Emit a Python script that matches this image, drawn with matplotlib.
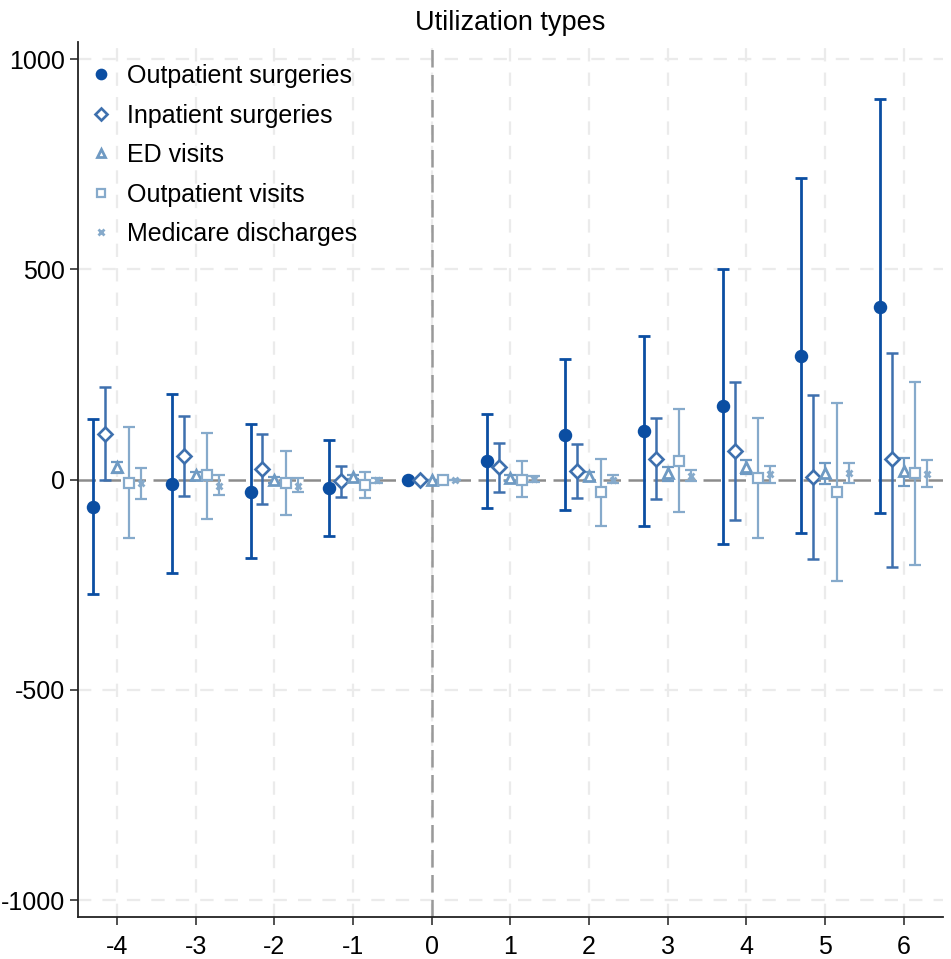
import numpy as np
import matplotlib
matplotlib.use("Agg")
import matplotlib.pyplot as plt

plt.rcParams['font.family'] = ['Liberation Sans', 'DejaVu Sans']

# Event time relative to treatment
periods = [-4, -3, -2, -1, 0, 1, 2, 3, 4, 5, 6]

# Point estimates and 95% confidence bounds by outcome
outpatient_surg = [-65, -10, -29, -20, 0, 44, 107, 116, 174, 294, 411]
outpatient_surg_lo = [-272, -221, -186, -134, 0, -68, -73, -110, -152, -128, -80]
outpatient_surg_hi = [144, 203, 132, 94, 0, 157, 287, 341, 500, 716, 904]

inpatient_surg = [109, 55, 26, -4, 0, 29, 20, 50, 68, 7, 48]
inpatient_surg_lo = [-1, -39, -57, -42, 0, -29, -43, -45, -96, -188, -207]
inpatient_surg_hi = [220, 151, 108, 33, 0, 86, 84, 146, 232, 201, 302]

ed_visits = [29, 11, -1, 7, 0, 4, 9, 15, 29, 16, 21]
ed_visits_lo = [16, -1, -8, 1, 0, -3, -1, -3, 13, -11, -15]
ed_visits_hi = [42, 19, 7, 11, 0, 11, 19, 30, 46, 40, 52]

outpatient_visits = [-7, 11, -9, -13, 0, 0, -30, 45, 3, -30, 15]
outpatient_visits_lo = [-138, -93, -84, -43, 0, -42, -111, -77, -140, -241, -203]
outpatient_visits_hi = [126, 111, 69, 19, 0, 44, 50, 167, 146, 182, 233]

medicare_dis = [-9, -15, -15, -1, 0, 2, 0, 8, 13, 16, 13]
medicare_dis_lo = [-46, -37, -30, -9, 0, -5, -8, -4, -8, -9, -17]
medicare_dis_hi = [27, 11, 3, 4, 0, 8, 10, 22, 33, 40, 46]

series = [
    ("Outpatient surgeries", outpatient_surg, outpatient_surg_lo, outpatient_surg_hi,
     dict(marker='o', color='#0B4EA2', ms=8.5, mfc='#0B4EA2', lw=2.0, mew=1.2)),
    ("Inpatient surgeries", inpatient_surg, inpatient_surg_lo, inpatient_surg_hi,
     dict(marker='D', color='#3E70AE', ms=6.8, mfc='white', lw=1.8, mew=1.9)),
    ("ED visits", ed_visits, ed_visits_lo, ed_visits_hi,
     dict(marker='^', color='#6F9AC3', ms=6.5, mfc='white', lw=1.6, mew=2.0)),
    ("Outpatient visits", outpatient_visits, outpatient_visits_lo, outpatient_visits_hi,
     dict(marker='s', color='#86AACB', ms=7.5, mfc='white', lw=1.6, mew=1.6)),
    ("Medicare discharges", medicare_dis, medicare_dis_lo, medicare_dis_hi,
     dict(marker='x', color='#86AACB', ms=4.5, mfc='#86AACB', lw=1.6, mew=2.0)),
]
offsets = [-0.3, -0.15, 0.0, 0.15, 0.3]

fig = plt.figure(figsize=(9.51, 9.59), dpi=100)
ax = fig.add_axes([0.0816, 0.0438, 0.9100, 0.9122])

x = np.array(periods, dtype=float)

# light dashed grid
for xv in periods:
    ax.axvline(xv, color='#ebebeb', lw=1.6, ls=(0, (6, 5)), zorder=0)
for yv in [-1000, -500, 500, 1000]:
    ax.axhline(yv, color='#ebebeb', lw=1.6, ls=(0, (6, 5)), zorder=0)

# reference lines
ax.axhline(0, color='#8c8c8c', lw=1.8, ls=(0, (7, 3)), zorder=1)
ax.axvline(0, color='#999999', lw=1.8, ls=(0, (7, 3)), zorder=1)

handles = []
for (label, est, lo, hi, st), off in zip(series, offsets):
    est = np.array(est, dtype=float)
    lo = np.array(lo, dtype=float)
    hi = np.array(hi, dtype=float)
    xs = x + off
    ax.errorbar(xs, est, yerr=[est - lo, hi - est], fmt='none',
                ecolor=st['color'], elinewidth=st['lw'], capsize=4.0,
                capthick=st['lw'], zorder=2)
    h, = ax.plot(xs, est, ls='none', marker=st['marker'], ms=st['ms'],
                 mfc=st['mfc'], mec=st['color'], mew=st['mew'], zorder=3,
                 label=label)
    handles.append(h)

ax.set_xlim(-4.5, 6.5)
ax.set_ylim(-1040, 1040)
ax.set_xticks(periods)
ax.set_xticklabels([str(p) for p in periods])
ax.set_yticks([-1000, -500, 0, 500, 1000])
ax.set_yticklabels(['-1000', '-500', '0', '500', '1000'])
ax.tick_params(axis='both', labelsize=18, length=6, width=1.2, color='#333333')
ax.tick_params(axis='y', pad=3)
ax.tick_params(axis='x', pad=7)

for side in ['top', 'right']:
    ax.spines[side].set_visible(False)
for side in ['left', 'bottom']:
    ax.spines[side].set_linewidth(1.3)
    ax.spines[side].set_color('#222222')

ax.set_title("Utilization types", fontsize=19.5, pad=9)

leg = ax.legend(handles=handles, loc='upper left', frameon=False, fontsize=18,
                handlelength=0.9, handletextpad=0.6, labelspacing=0.62,
                borderaxespad=0.3, markerscale=0.85,
                bbox_to_anchor=(-0.006, 0.995))

fig.savefig("out.png", dpi=100)
